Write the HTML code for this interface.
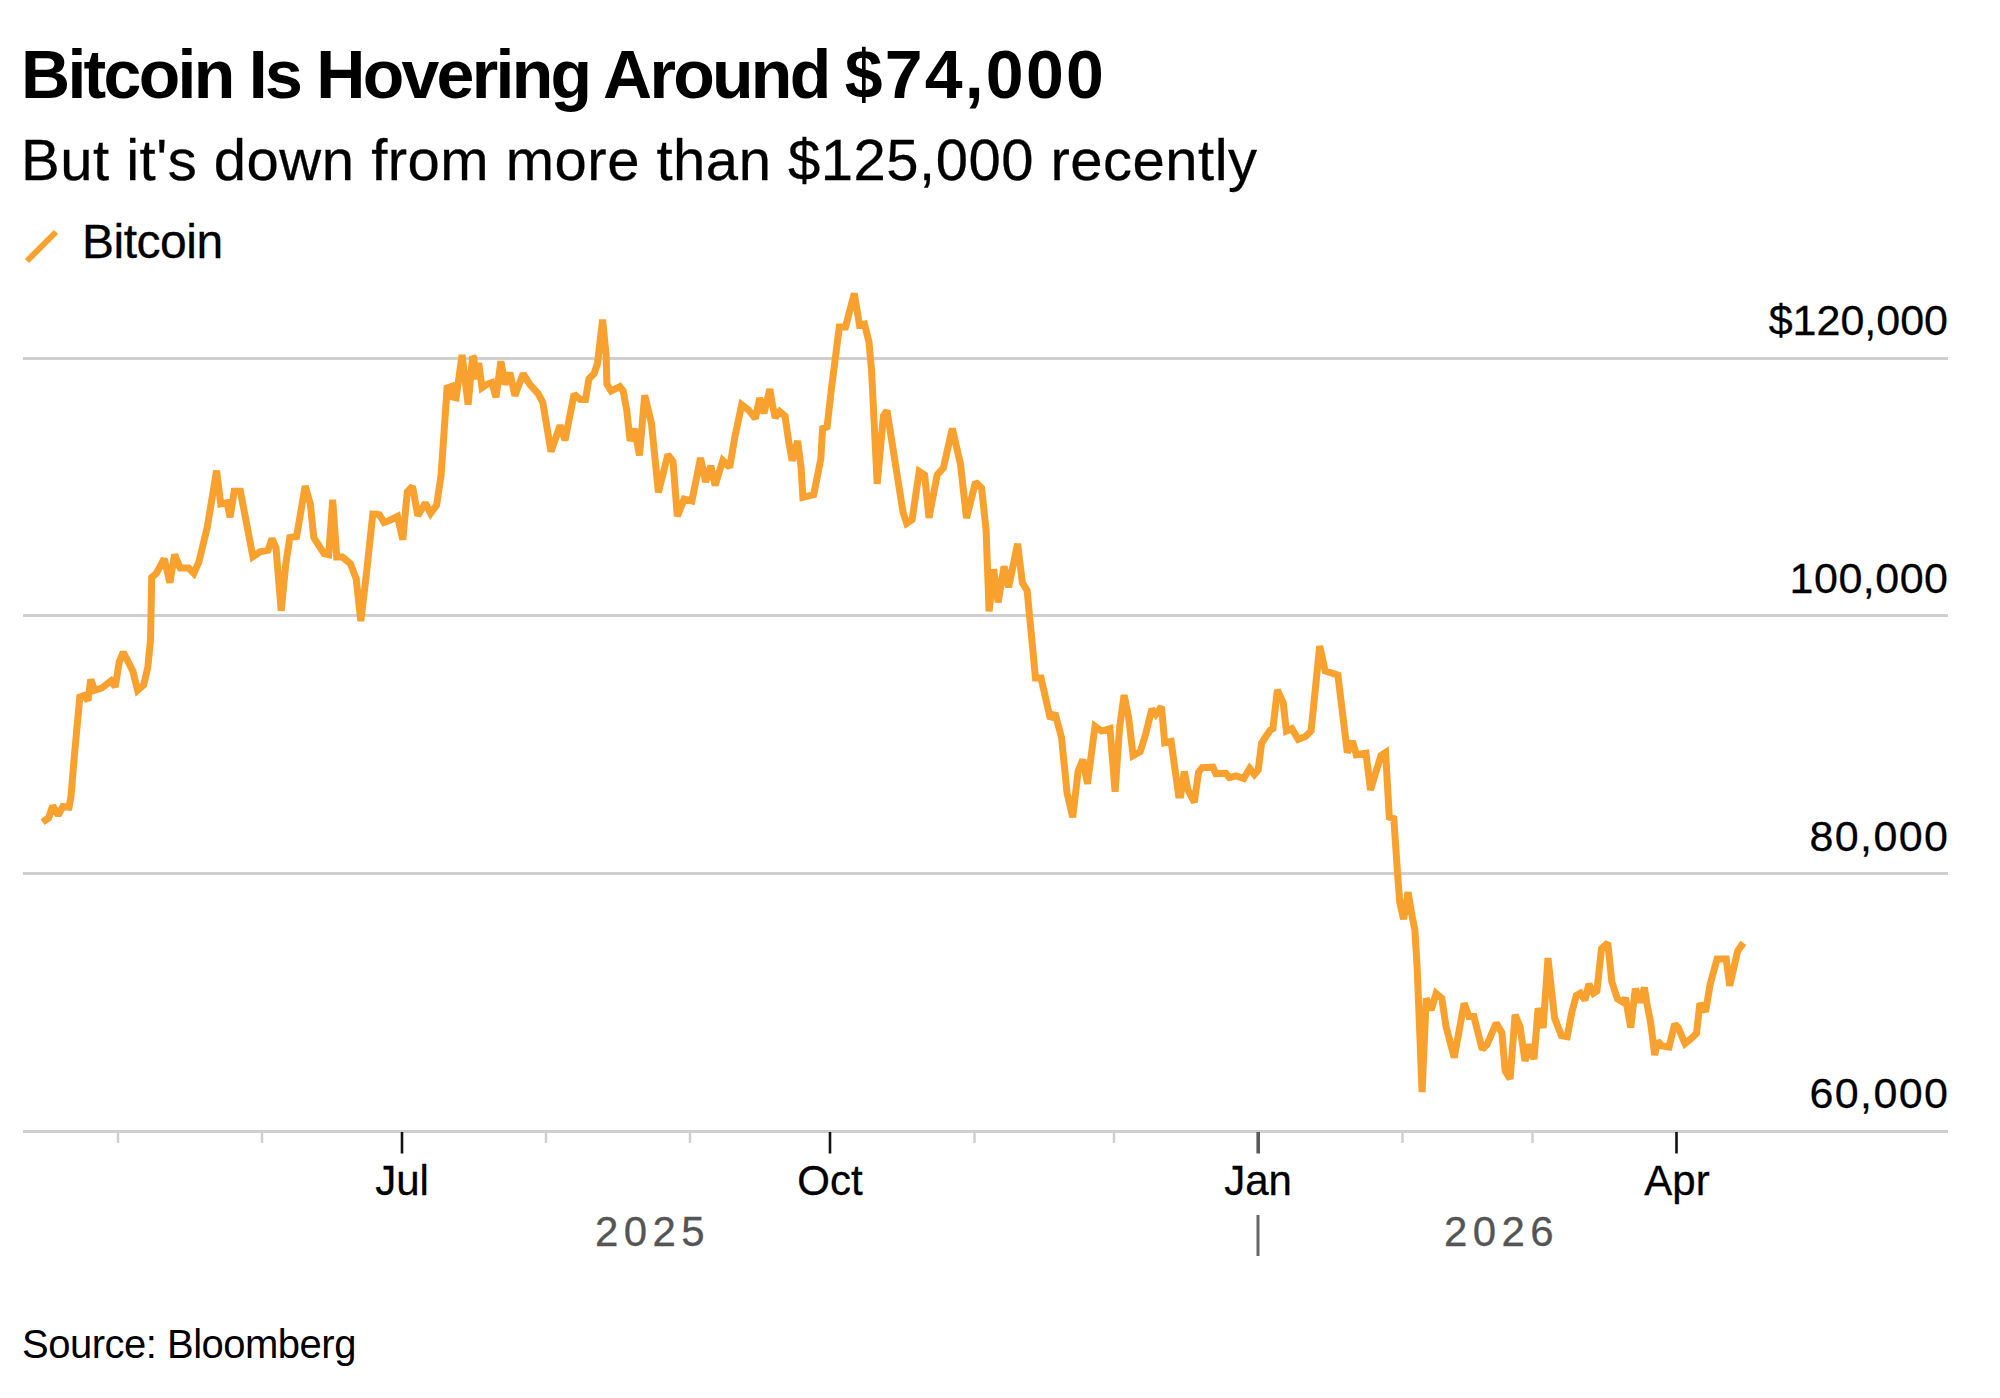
<!DOCTYPE html>
<html><head><meta charset="utf-8">
<style>
html,body{margin:0;padding:0;background:#fff;width:2000px;height:1398px;overflow:hidden}
body{position:relative;font-family:"Liberation Sans",sans-serif;color:#000}
.t{position:absolute;white-space:nowrap;line-height:1;-webkit-text-stroke:0.3px currentColor}
#title,#src{-webkit-text-stroke:0}
#title{left:21px;top:40px;font-size:68px;font-weight:700;letter-spacing:-1.8px}
#sub{left:21px;top:131px;font-size:58px;letter-spacing:0.5px}
#leg{left:82px;top:218px;font-size:48px;letter-spacing:-0.5px}
.yl{font-size:43px;right:52px;text-align:right}
.xl{font-size:42px;width:200px;text-align:center}
.yr{font-size:42px;color:#555;letter-spacing:5.4px}
#src{left:22px;top:1324px;font-size:40px;letter-spacing:-0.5px}
svg{position:absolute;left:0;top:0}
</style></head><body>
<div class="t" id="title"><span style="letter-spacing:-2.7px">Bitcoin Is Hovering Around </span><span style="letter-spacing:2.2px">$74,000</span></div>
<div class="t" id="sub">But it's down from more than $125,000 recently</div>
<div class="t" id="leg">Bitcoin</div>
<div class="t yl" id="y120" style="top:299px">$120,000</div>
<div class="t yl" id="y100" style="top:557px;letter-spacing:0.5px;right:51.5px">100,000</div>
<div class="t yl" id="y80" style="top:815px;letter-spacing:1.4px;right:50.6px">80,000</div>
<div class="t yl" id="y60" style="top:1072px;letter-spacing:1.4px;right:50.6px">60,000</div>
<div class="t xl" id="xjul" style="left:302px;top:1160px">Jul</div>
<div class="t xl" id="xoct" style="left:730px;top:1160px">Oct</div>
<div class="t xl" id="xjan" style="left:1158px;top:1160px">Jan</div>
<div class="t xl" id="xapr" style="left:1577px;top:1160px">Apr</div>
<div class="t yr" id="yr25" style="left:595px;top:1211px">2025</div>
<div class="t yr" id="yr26" style="left:1444px;top:1211px">2026</div>
<div class="t" id="src">Source: Bloomberg</div>
<svg width="2000" height="1398" viewBox="0 0 2000 1398">
<g stroke="#cfcfcf" stroke-width="3">
<line x1="23" y1="358.5" x2="1948" y2="358.5"/>
<line x1="23" y1="615.5" x2="1948" y2="615.5"/>
<line x1="23" y1="873.5" x2="1948" y2="873.5"/>
<line x1="23" y1="1131.5" x2="1948" y2="1131.5"/>
</g>
<g stroke="#cfcfcf" stroke-width="2.5">
<line x1="118" y1="1131" x2="118" y2="1143"/>
<line x1="262" y1="1131" x2="262" y2="1143"/>
<line x1="546" y1="1131" x2="546" y2="1143"/>
<line x1="690" y1="1131" x2="690" y2="1143"/>
<line x1="974.5" y1="1131" x2="974.5" y2="1143"/>
<line x1="1114" y1="1131" x2="1114" y2="1143"/>
<line x1="1402.5" y1="1131" x2="1402.5" y2="1143"/>
<line x1="1532.5" y1="1131" x2="1532.5" y2="1143"/>
</g>
<g stroke="#111" stroke-width="2.6">
<line x1="402" y1="1132" x2="402" y2="1153.5"/>
<line x1="830" y1="1132" x2="830" y2="1153.5"/>
<line x1="1676.5" y1="1132" x2="1676.5" y2="1153.5"/>
</g>
<line x1="1258.2" y1="1132" x2="1258.2" y2="1153.5" stroke="#5a5a5a" stroke-width="3.6"/>
<line x1="1258" y1="1215" x2="1258" y2="1256" stroke="#666" stroke-width="3"/>
<line x1="27" y1="261" x2="56" y2="232" stroke="#f9a12e" stroke-width="6"/>
<path id="btc" fill="none" stroke="#f9a12e" stroke-width="7" stroke-linejoin="miter" stroke-miterlimit="2" stroke-linecap="butt" d="M42.5,822.1 L48.6,818.0 L52.7,805.8 L58.1,815.3 L62.9,806.5 L69.0,807.2 L71.0,796.3 L74.4,755.5 L79.8,697.1 L83.9,695.7 L88.0,700.5 L90.7,679.4 L94.8,690.3 L101.6,688.2 L111.1,680.8 L115.2,686.9 L119.3,661.7 L123.3,652.2 L132.9,671.3 L137.6,690.3 L143.7,684.8 L147.8,667.2 L150.5,640.0 L151.7,577.4 L156.4,573.3 L164.2,558.7 L169.9,582.6 L174.6,554.6 L180.3,568.1 L188.6,568.1 L193.8,573.3 L198.9,561.8 L207.2,527.6 L216.6,470.6 L220.7,503.8 L227.0,502.7 L230.1,517.2 L234.2,491.3 L240.4,491.3 L252.9,556.7 L260.0,551.9 L268.0,550.2 L272.0,538.7 L276.0,547.9 L281.2,610.8 L285.8,563.9 L289.8,537.6 L296.6,536.4 L305.2,486.0 L310.4,504.4 L313.8,537.6 L324.1,553.6 L328.7,554.7 L332.7,499.8 L336.7,557.0 L342.4,557.0 L350.5,563.9 L356.2,578.8 L360.8,621.2 L366.5,573.1 L372.8,514.1 L376.5,514.2 L379.5,514.9 L384.0,522.4 L390.0,520.2 L397.5,516.4 L402.8,539.7 L407.3,491.7 L412.5,486.4 L417.8,515.7 L425.3,502.9 L430.6,513.4 L436.6,505.2 L441.1,475.1 L447.1,388.0 L451.6,386.5 L453.1,397.1 L456.1,397.8 L462.1,355.0 L468.1,404.6 L472.6,356.5 L473.8,358.0 L476.2,379.3 L478.7,362.9 L482.0,387.6 L486.9,384.3 L491.8,382.6 L496.0,397.4 L500.9,361.3 L505.0,384.3 L509.9,372.8 L514.9,395.8 L523.1,373.6 L529.7,384.3 L537.9,393.3 L542.8,402.4 L551.0,451.7 L560.1,425.4 L565.0,440.2 L574.1,394.1 L580.3,399.6 L585.5,399.6 L588.9,379.0 L594.0,373.8 L597.5,363.5 L602.6,319.7 L606.1,354.9 L606.9,384.1 L611.2,391.0 L619.8,386.7 L623.2,391.0 L626.7,409.9 L630.1,440.8 L634.4,428.8 L639.5,455.4 L644.7,395.3 L651.5,423.6 L658.4,492.3 L667.9,454.5 L673.0,461.4 L677.3,516.3 L684.2,499.1 L691.9,500.9 L700.5,457.9 L705.6,482.0 L710.8,465.7 L715.1,485.4 L722.8,460.5 L729.7,467.4 L734.8,437.3 L741.7,404.7 L748.5,409.9 L755.4,418.5 L759.7,397.9 L764.0,413.3 L769.8,389.1 L772.5,405.2 L775.2,417.7 L779.7,411.5 L785.0,416.0 L788.6,441.0 L792.2,460.7 L797.6,441.0 L801.1,467.8 L802.9,497.4 L813.7,494.7 L820.8,458.9 L822.6,428.5 L827.1,426.7 L831.6,387.3 L839.3,327.0 L845.5,327.0 L854.3,293.5 L859.5,325.0 L864.5,324.0 L869.0,342.2 L871.5,369.4 L877.2,483.9 L883.4,416.0 L887.0,410.6 L896.0,467.8 L903.1,512.6 L906.7,523.3 L912.1,519.7 L919.2,471.4 L924.6,475.0 L929.0,517.9 L937.1,475.0 L943.4,467.8 L952.3,428.5 L960.5,464.1 L966.5,518.2 L975.5,482.1 L981.6,488.1 L986.1,530.2 L989.1,611.4 L993.6,569.3 L998.1,602.4 L1004.1,566.3 L1008.6,587.3 L1017.6,543.8 L1022.4,583.0 L1027.1,590.5 L1035.5,677.9 L1041.0,677.9 L1050.3,718.8 L1055.0,713.2 L1061.5,737.4 L1067.1,793.2 L1072.7,817.3 L1078.2,770.9 L1082.9,759.7 L1087.5,783.9 L1095.0,726.2 L1101.6,731.0 L1110.0,728.6 L1115.1,791.7 L1119.6,727.3 L1124.1,695.1 L1128.6,717.0 L1133.1,755.6 L1140.2,751.7 L1145.4,735.0 L1151.8,709.2 L1155.7,714.4 L1161.5,706.7 L1164.7,742.7 L1171.1,741.4 L1178.6,795.1 L1180.7,795.1 L1184.3,771.5 L1188.0,790.0 L1194.3,802.3 L1198.6,772.2 L1202.2,767.6 L1212.9,767.2 L1215.8,773.6 L1225.8,773.2 L1229.4,777.6 L1235.8,775.8 L1243.7,778.6 L1249.7,768.5 L1254.4,774.4 L1258.2,770.0 L1261.6,743.0 L1265.9,736.5 L1270.5,730.0 L1272.9,728.6 L1277.4,689.9 L1283.2,703.0 L1286.4,730.9 L1291.8,728.7 L1298.2,739.4 L1305.8,736.2 L1311.1,730.9 L1319.7,646.1 L1325.1,670.8 L1337.9,675.1 L1347.3,752.5 L1352.5,741.3 L1356.3,754.8 L1366.0,753.3 L1370.5,790.1 L1375.0,775.0 L1381.0,755.5 L1385.6,752.5 L1389.3,817.1 L1393.8,818.6 L1397.6,874.1 L1399.8,902.7 L1403.6,919.2 L1408.1,892.2 L1411.8,914.7 L1414.9,930.0 L1417.2,968.7 L1422.1,1092.2 L1426.2,998.4 L1431.1,1009.9 L1436.1,993.4 L1441.8,998.4 L1446.0,1026.4 L1454.2,1057.6 L1464.1,1003.3 L1469.0,1016.5 L1473.9,1016.5 L1482.2,1049.4 L1487.1,1044.5 L1496.2,1023.1 L1501.9,1032.9 L1505.2,1070.8 L1510.1,1079.0 L1515.1,1014.8 L1520.0,1026.4 L1525.0,1060.9 L1529.9,1044.5 L1534.0,1059.3 L1538.1,1008.2 L1543.1,1028.0 L1548.0,958.1 L1554.6,1018.1 L1561.4,1035.6 L1567.2,1036.7 L1571.7,1012.7 L1576.3,995.5 L1580.3,993.2 L1584.9,1000.1 L1588.9,984.1 L1593.5,993.2 L1596.9,991.0 L1601.5,948.6 L1607.8,942.9 L1611.8,981.8 L1617.5,999.0 L1623.2,1002.4 L1625.5,997.8 L1630.7,1027.6 L1635.3,988.7 L1639.8,1002.4 L1644.4,987.5 L1646.7,1002.4 L1650.7,1023.0 L1654.7,1055.0 L1657.6,1041.3 L1662.2,1045.9 L1669.0,1047.0 L1674.7,1024.1 L1678.2,1027.6 L1685.0,1043.6 L1691.9,1037.9 L1696.5,1033.3 L1699.9,1003.5 L1705.6,1011.6 L1710.2,984.1 L1717.1,958.9 L1726.2,958.9 L1729.7,985.8 L1734.3,965.8 L1737.7,950.9 L1743.4,942.9"/>
</svg>
</body></html>
